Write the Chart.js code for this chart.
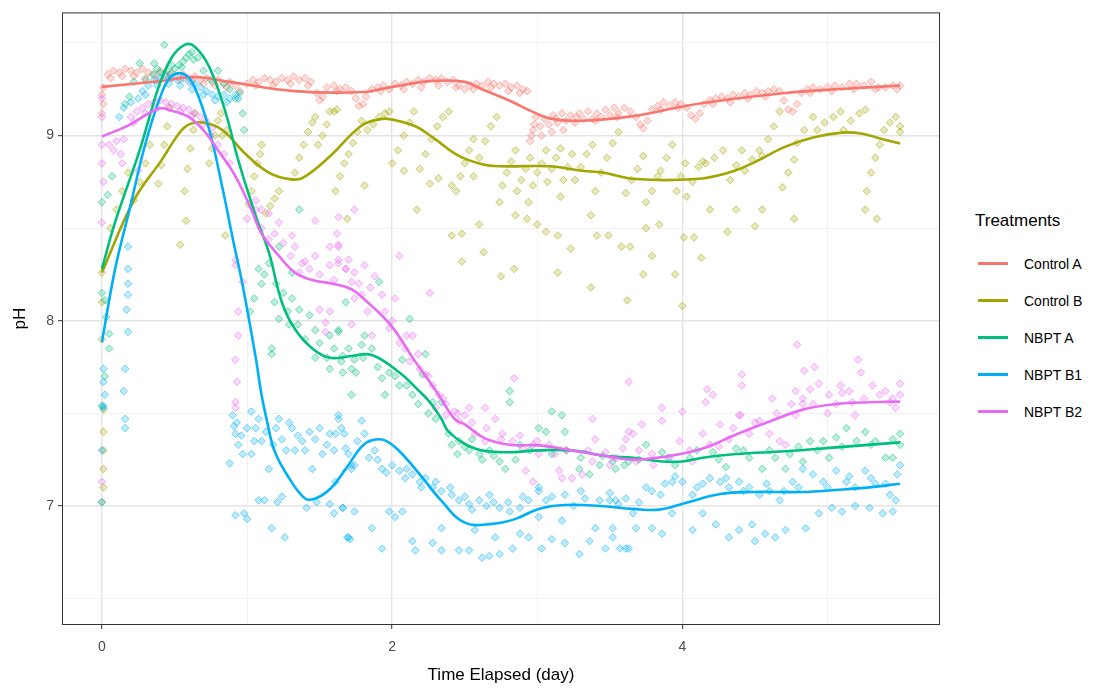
<!DOCTYPE html>
<html>
<head>
<meta charset="utf-8">
<title>pH by treatment</title>
<script src="https://cdn.jsdelivr.net/npm/chart.js@4.4.1/dist/chart.umd.min.js"></script>
<style>
  html, body { margin: 0; padding: 0; background: #fff; }
  #wrap { position: relative; width: 1112px; height: 690px; font-family: "Liberation Sans", Arial, sans-serif; }
  #chartBox { position: absolute; left: 0; top: 0; width: 950px; height: 690px; }
  #legend { position: absolute; left: 975px; top: 211px; }
  #legend .title { font-size: 17px; line-height: 20px; color: #000; margin-bottom: 14px; }
  #legend .item { display: flex; align-items: center; height: 37px; font-size: 14px; color: #000; }
  #legend .key { width: 30px; height: 3px; margin: 0 16px 0 3px; }
</style>
</head>
<body>
<div id="wrap">
  <div id="chartBox"><canvas id="chart"></canvas></div>
  <div id="legend"></div>
</div>
<script>
// axis ticks (minor ones get a grid line but no label)
const X_TICKS = [0, 1, 2, 3, 4, 5];
const X_LABELLED = [0, 2, 4];
const Y_TICKS = [6.5, 7, 7.5, 8, 8.5, 9, 9.5];
const Y_LABELLED = [7, 8, 9];

const TREATMENT_NAMES = ['Control A', 'Control B', 'NBPT A', 'NBPT B1', 'NBPT B2'];
const TREATMENT_COLORS = ['#F8766D', '#A3A500', '#00BF7D', '#00B0F6', '#E76BF3'];

// raw readings [day, pH]
const controlAPoints = [
  [0,9.12],[0.01,9.17],[0,9.22],[0.01,9.26],
  [0.04,9.33],[0.08,9.35],[0.12,9.34],[0.16,9.36],[0.2,9.35],[0.24,9.34],[0.28,9.36],[0.32,9.34],[0.36,9.33],[0.4,9.35],
  [0.44,9.33],[0.48,9.34],[0.52,9.32],[0.56,9.33],[0.6,9.31],[0.64,9.32],[0.68,9.3],[0.72,9.31],[0.76,9.29],[0.8,9.3],
  [0.84,9.28],[0.88,9.29],[0.92,9.27],[0.95,9.24],
  [0.06,9.31],[0.14,9.32],[0.22,9.32],[0.3,9.31],[0.38,9.3],[0.46,9.31],[0.54,9.3],[0.62,9.29],[0.7,9.28],[0.78,9.27],[0.86,9.26],
  [1.0,9.28],[1.04,9.3],[1.08,9.29],[1.12,9.31],[1.16,9.3],[1.2,9.29],[1.24,9.31],[1.28,9.3],[1.32,9.32],[1.36,9.3],
  [1.4,9.31],[1.44,9.29],[1.48,9.23],[1.5,9.19],[1.52,9.21],[1.55,9.26],[1.6,9.27],[1.64,9.25],[1.68,9.26],[1.72,9.24],
  [1.75,9.2],[1.77,9.16],[1.8,9.17],[1.82,9.21],[1.86,9.25],[1.9,9.26],[1.94,9.27],[1.98,9.25],[2.02,9.28],[2.06,9.27],
  [2.1,9.29],[2.14,9.28],[2.18,9.3],[2.22,9.29],[2.26,9.31],[2.3,9.3],[2.34,9.31],[2.38,9.29],[2.42,9.3],[2.46,9.27],
  [2.5,9.25],[2.54,9.27],[2.58,9.28],[2.62,9.27],[2.66,9.29],[2.7,9.28],[2.74,9.27],[2.78,9.28],[2.82,9.26],[2.86,9.27],
  [2.9,9.25],[2.93,9.24],
  [1.06,9.27],[1.18,9.27],[1.3,9.28],[1.42,9.27],[1.62,9.24],[1.92,9.24],[2.08,9.25],[2.2,9.26],[2.32,9.27],[2.44,9.26],
  [2.56,9.25],[2.68,9.26],[2.8,9.24],[2.88,9.23],
  [2.95,8.97],[2.96,9.0],[2.97,9.03],[2.98,9.06],[2.99,9.1],
  [3.02,9.05],[3.03,9.0],[3.05,9.09],[3.08,9.06],[3.1,9.02],[3.11,9.11],[3.14,9.07],[3.17,9.12],[3.18,9.03],[3.2,9.08],
  [3.23,9.11],[3.26,9.07],[3.29,9.12],[3.32,9.09],[3.35,9.13],[3.38,9.09],[3.41,9.12],[3.44,9.1],[3.47,9.14],[3.5,9.11],
  [3.53,9.15],[3.56,9.12],[3.6,9.15],[3.64,9.13],[3.68,9.1],[3.71,9.06],[3.73,9.04],[3.76,9.08],[3.79,9.14],[3.83,9.16],
  [3.87,9.18],[3.91,9.16],[3.95,9.18],[3.99,9.17],[4.03,9.15],[4.06,9.11],[4.09,9.09],[4.12,9.12],[4.15,9.17],[4.19,9.19],
  [4.23,9.2],[4.27,9.21],[4.31,9.2],[4.35,9.22],[4.39,9.21],[4.43,9.23],[4.47,9.22],[4.51,9.24],[4.55,9.23],[4.59,9.24],
  [4.63,9.25],[4.67,9.24],[4.7,9.19],[4.73,9.14],[4.76,9.13],[4.79,9.17],[4.82,9.23],[4.86,9.25],[4.9,9.26],[4.95,9.25],
  [5.0,9.26],[5.05,9.27],[5.1,9.26],[5.15,9.28],[5.2,9.28],[5.25,9.27],[5.3,9.29],[5.35,9.26],[5.4,9.26],[5.45,9.27],[5.5,9.27],
  [3.13,9.09],[3.27,9.1],[3.4,9.08],[3.55,9.1],[3.85,9.14],[3.97,9.15],[4.21,9.17],[4.33,9.18],[4.45,9.2],[4.57,9.21],
  [4.88,9.23],[5.03,9.24],[5.18,9.25],[5.33,9.25],[5.48,9.25]
];

const controlBPoints = [
  [0,8.26],[0,8.1],[0,7.9],[0.01,7.52],[0.01,7.4],[0.01,7.3],[0.01,7.2],[0.01,7.1],[0,7.02],
  [0.06,8.5],[0.1,8.6],[0.14,8.7],[0.18,8.8],[0.22,8.65],[0.26,8.75],[0.3,8.85],[0.33,8.95],
  [0.39,8.74],[0.41,8.84],[0.43,8.95],[0.45,9.05],[0.47,9.15],
  [0.57,8.7],[0.59,8.82],[0.61,8.93],[0.63,9.03],[0.64,9.12],
  [0.74,8.85],[0.76,8.93],[0.78,9.0],[0.8,9.08],[0.82,9.12],[0.83,9.0],[0.86,9.03],
  [0.54,8.41],[0.58,8.54],[0.85,8.46],
  [1.01,8.63],[1.03,8.7],[1.05,8.78],[1.07,8.85],[1.09,8.9],[1.1,8.95],
  [1.13,8.58],[1.16,8.62],[1.19,8.66],[1.22,8.7],
  [1.33,8.8],[1.36,8.88],[1.39,8.95],[1.42,9.02],[1.45,9.07],[1.47,9.1],
  [1.49,8.95],[1.52,9.0],[1.55,9.06],[1.57,9.13],[1.6,9.13],[1.62,9.14],
  [1.61,8.7],[1.64,8.78],[1.67,8.85],[1.7,8.9],[1.69,8.55],
  [1.73,8.96],[1.76,9.02],[1.79,9.08],[1.81,8.73],
  [1.83,9.03],[1.87,9.06],[1.91,9.1],[1.95,9.12],[1.98,9.13],
  [2.0,8.85],[2.04,8.92],[2.08,9.0],[2.12,9.07],[2.15,9.13],[2.08,8.81],[2.17,8.6],
  [2.19,8.82],[2.23,8.9],[2.27,8.98],[2.31,9.05],[2.35,9.1],[2.39,9.13],[2.26,8.74],[2.32,8.77],
  [2.44,8.7],[2.47,8.78],[2.5,8.85],[2.53,8.92],[2.56,8.98],[2.41,8.73],
  [2.56,8.78],[2.6,8.88],[2.64,8.97],[2.68,9.05],[2.72,9.1],[2.74,8.64],
  [2.76,8.73],[2.79,8.8],[2.82,8.86],[2.85,8.92],
  [2.86,8.7],[2.89,8.76],[2.92,8.82],[2.95,8.88],[2.94,8.64],
  [2.97,8.73],[3.0,8.8],[3.03,8.85],[3.06,8.92],
  [3.07,8.75],[3.1,8.82],[3.13,8.88],[3.16,8.93],[3.16,8.67],
  [3.18,8.76],[3.21,8.83],[3.24,8.9],
  [3.26,8.76],[3.3,8.83],[3.34,8.9],[3.38,8.95],
  [3.4,8.7],[3.44,8.8],[3.48,8.88],[3.52,8.96],[3.56,9.02],
  [3.61,8.69],[3.65,8.76],[3.69,8.82],[3.73,8.89],
  [3.75,8.64],[3.79,8.7],[3.83,8.78],
  [3.85,8.81],[3.89,8.88],[3.93,8.95],
  [3.96,8.7],[3.99,8.78],[4.02,8.85],
  [4.03,8.67],[4.07,8.75],[4.11,8.83],[4.14,8.86],
  [4.16,8.85],[4.22,8.88],[4.28,8.92],
  [4.33,8.76],[4.37,8.84],[4.41,8.92],
  [4.43,8.81],[4.48,8.87],[4.53,8.92],
  [4.55,8.89],[4.59,8.98],[4.63,9.05],[4.67,9.13],
  [4.69,8.72],[4.73,8.8],[4.77,8.87],
  [4.79,8.96],[4.84,9.03],[4.9,9.1],
  [4.93,9.03],[4.98,9.07],[5.04,9.1],[5.09,9.13],
  [5.11,9.03],[5.16,9.08],[5.22,9.12],[5.26,9.14],
  [5.27,8.7],[5.3,8.8],[5.33,8.88],[5.36,8.95],
  [5.39,9.03],[5.43,9.07],[5.47,9.1],[5.5,9.05],[5.5,9.02],
  // low scatter
  [2.41,8.46],[2.48,8.47],[2.48,8.32],[2.6,8.52],[2.63,8.37],[2.75,8.24],[2.84,8.28],[2.85,8.57],[2.93,8.55],
  [3.0,8.52],[3.06,8.48],[3.14,8.46],[3.14,8.26],[3.23,8.39],[3.37,8.18],[3.37,8.57],[3.41,8.46],[3.49,8.46],
  [3.58,8.4],[3.62,8.11],[3.64,8.4],[3.73,8.25],[3.75,8.5],[3.79,8.35],[3.84,8.52],[3.95,8.25],[4.0,8.08],
  [4.01,8.45],[4.08,8.45],[4.13,8.34],[4.19,8.6],[4.31,8.48],[4.37,8.6],[4.5,8.51],[4.55,8.6],[4.77,8.55],
  [5.26,8.6],[5.34,8.55]
];

const nbptAPoints = [
  [0,8.64],[0.04,8.68],[0.07,8.78],[0,8.15],[0.02,8.11],[0.03,8.02],[0.05,7.93],[0.05,7.85],[0,7.54],[0.02,7.7],
  [0.16,9.17],[0.19,9.21],[0.22,9.29],[0.26,9.39],[0.36,9.39],[0.43,9.49],[0.48,9.38],
  [0.35,9.33],[0.4,9.34],[0.45,9.35],[0.5,9.36],[0.53,9.38],[0.56,9.4],[0.58,9.42],[0.6,9.44],[0.62,9.45],
  [0.3,9.3],[0.38,9.36],[0.47,9.33],[0.55,9.37],[0.63,9.41],[0.66,9.42],[0.7,9.35],[0.75,9.3],
  [0.8,9.35],[0.84,9.28],[0.88,9.25],[0.92,9.2],[0.95,9.23],[0.97,9.12],[0.98,9.03],
  [1.08,8.28],[1.15,8.31],[1.1,8.2],[1.05,8.12],[1.02,8.05],[1.19,8.1],[1.31,8.12],[1.36,8.06],[1.22,8.01],
  [1.17,7.85],[1.17,7.82],[1.29,7.98],[1.43,8.03],[1.47,7.95],[1.57,7.92],[1.47,7.8],[1.57,7.74],[1.66,7.72],
  [1.74,7.79],[1.7,7.85],[1.72,7.6],[1.63,7.95],[1.68,8.1],[1.36,8.6],[1.22,8.4],[1.31,8.26],
  [1.12,8.25],[1.2,8.2],[1.25,8.15],[1.28,8.05],[1.35,7.98],[1.4,7.9],[1.5,7.88],[1.55,7.8],[1.6,7.85],[1.65,7.78],
  [1.75,7.72],[1.8,7.8],[1.9,7.75],[1.98,7.72],[2.02,7.7],[2.1,7.65],[2.18,7.55],[2.25,7.5],
  [1.63,7.94],[1.66,7.81],[1.72,7.74],[1.79,7.87],[1.81,7.92],[1.86,7.85],[1.93,7.69],[1.95,7.6],[2.05,7.65],
  [2.07,7.79],[2.14,7.6],[2.21,7.71],[2.28,7.56],[2.34,7.56],[1.91,8.21],[2.12,8.01],[2.23,7.82],[2.81,7.62],[2.81,7.56],
  [2.3,7.47],[2.39,7.39],[2.46,7.35],[2.53,7.3],[2.6,7.28],[2.67,7.3],[2.74,7.24],[2.78,7.2],[2.88,7.33],
  [3.01,7.42],[3.06,7.4],[3.19,7.4],[3.17,7.49],[3.1,7.51],[3.29,7.2],[3.36,7.17],[3.43,7.22],[3.54,7.2],
  [3.63,7.24],[2.41,7.33],[2.55,7.36],
  [2.45,7.28],[2.5,7.32],[2.62,7.25],[2.7,7.27],[2.85,7.25],[2.95,7.3],[3.1,7.28],[3.2,7.3],[3.3,7.26],[3.45,7.27],
  [3.6,7.22],[3.7,7.25],[3.9,7.26],[4.1,7.3],[4.25,7.25],[4.42,7.3],[4.6,7.3],[4.8,7.32],[4.93,7.3],[5.1,7.32],
  [5.3,7.33],[5.45,7.36],
  [3.52,7.24],[3.75,7.33],[3.86,7.29],[3.95,7.22],[4.05,7.26],[4.21,7.29],[4.3,7.21],[4.37,7.31],[4.46,7.26],
  [4.55,7.2],[4.64,7.26],[4.74,7.28],[4.83,7.24],[4.88,7.35],[4.97,7.35],[5.06,7.37],[5.13,7.42],[5.2,7.35],
  [5.26,7.4],[5.33,7.35],[5.4,7.26],[5.45,7.26],[5.5,7.39],[5.5,7.33],[5.01,7.26],[4.71,7.2]
];

const nbptB1Points = [
  [0.01,7.74],[0.01,7.67],[0.02,7.6],[0.01,7.54],[0.16,7.74],[0.18,7.94],[0.17,8.06],[0.18,8.14],[0.18,8.2],
  [0.18,8.28],[0.18,8.4],[0.15,7.62],[0,7.3],[0,7.02],[0.01,7.53],[0.16,7.47],[0.16,7.42],
  [0.12,9.1],[0.15,9.15],[0.2,9.18],
  [0.25,9.2],[0.28,9.24],[0.32,9.27],[0.36,9.3],[0.4,9.31],[0.44,9.32],[0.48,9.31],[0.52,9.3],[0.56,9.31],
  [0.6,9.29],[0.64,9.28],[0.68,9.26],[0.72,9.24],[0.76,9.22],[0.8,9.21],[0.84,9.22],[0.88,9.2],[0.92,9.22],
  [0.3,9.22],[0.38,9.27],[0.46,9.28],[0.54,9.27],[0.62,9.25],[0.7,9.22],[0.78,9.19],[0.86,9.18],[0.94,9.2],
  [0.9,7.49],[0.91,7.43],[0.92,7.39],[0.94,7.33],[0.97,7.28],[0.88,7.23],[1.03,7.51],[1.06,7.42],[1.1,7.35],
  [1.03,7.28],[1.15,7.2],[1.22,7.47],[1.24,7.36],[1.31,7.42],[1.33,7.3],[1.38,7.35],[1.43,7.4],[1.45,7.2],
  [1.52,7.28],[1.57,7.39],[1.63,7.47],[1.68,7.31],[1.74,7.22],[1.61,7.13],[1.72,7.2],
  [0.93,7.45],[0.96,7.38],[1.0,7.42],[1.05,7.35],[1.08,7.47],[1.13,7.4],[1.18,7.33],[1.2,7.42],[1.27,7.3],[1.29,7.45],
  [1.35,7.38],[1.4,7.3],[1.47,7.36],[1.5,7.42],[1.55,7.33],[1.6,7.3],[1.65,7.42],[1.7,7.28],[1.76,7.35],
  [1.08,7.03],[1.12,7.03],[1.21,7.02],[1.24,7.05],[0.92,6.95],[0.98,6.96],[1.0,6.93],[1.17,6.88],[1.26,6.83],
  [1.41,6.99],[1.48,7.02],[1.57,7.01],[1.6,6.96],[1.66,6.99],[1.74,6.97],[1.69,6.83],[1.71,6.82],
  [1.63,7.49],[1.61,7.39],[1.67,7.39],[1.79,7.46],[1.81,7.39],[1.72,7.22],[1.84,7.26],[1.88,7.3],[1.93,7.2],
  [2.0,7.22],[2.05,7.19],[2.09,7.15],[2.14,7.17],[2.19,7.13],[2.23,7.15],[2.28,7.1],[2.34,7.08],[2.41,7.06],
  [2.46,7.03],[2.53,7.01],[2.6,7.03],[2.67,7.06],[2.74,6.99],[2.81,6.97],[2.88,6.99],[2.94,7.03],[3.01,7.08],
  [3.06,7.03],[3.19,7.06],[3.33,7.04],[3.43,7.03],[3.54,7.03],[3.61,7.04],[3.01,7.1],
  [1.9,7.25],[1.96,7.18],[2.1,7.2],[2.2,7.1],[2.3,7.13],[2.4,7.1],[2.5,7.05],[2.55,6.98],[2.65,7.0],[2.7,7.02],
  [2.8,7.02],[2.9,7.05],[3.1,7.05],[3.25,7.0],[3.3,7.08],[3.5,7.07],[3.7,7.02],[3.85,7.06],[3.95,7.16],[4.1,7.1],
  [4.3,7.15],[4.42,7.08],[4.58,7.12],[4.7,7.08],[4.8,7.1],[5.0,7.1],[5.15,7.16],[5.3,7.15],[5.4,7.12],
  [1.66,6.99],[1.7,6.83],[1.86,6.88],[1.93,6.77],[1.98,6.97],[2.02,6.94],[2.07,6.97],[2.14,6.81],[2.16,6.76],
  [2.28,6.8],[2.34,6.76],[2.46,6.76],[2.53,6.76],[2.62,6.72],[2.67,6.73],[2.74,6.74],[2.34,6.88],[2.57,6.87],
  [2.71,6.83],[2.83,6.77],[2.88,6.85],[2.94,6.83],[3.03,6.77],[3.1,6.82],[3.19,6.8],[3.29,6.74],[3.36,6.81],
  [3.47,6.77],[3.57,6.77],[3.63,6.77],[3.4,6.88],[3.01,6.94],[3.17,6.92],[3.52,6.88],
  [3.5,7.03],[3.56,7.01],[3.66,6.96],[3.75,7.1],[3.79,7.08],[3.88,7.12],[3.93,7.13],[4.0,7.13],[4.07,7.06],
  [4.14,7.12],[4.19,7.15],[4.26,7.13],[4.32,7.1],[4.39,7.13],[4.46,7.1],[4.53,7.06],[4.6,7.08],[4.67,7.03],
  [4.76,7.13],[4.83,7.2],[4.9,7.17],[4.97,7.13],[5.06,7.19],[5.13,7.13],[5.19,7.1],[5.26,7.19],[5.33,7.12],
  [5.43,7.06],[5.48,7.17],[5.5,7.22],[5.47,7.03],
  [3.52,6.83],[3.61,6.77],[3.68,6.88],[3.79,6.88],[3.86,6.85],[3.93,6.96],[4.07,6.87],[4.14,6.96],[4.23,6.9],
  [4.32,6.83],[4.39,6.87],[4.48,6.9],[4.5,6.81],[4.57,6.85],[4.64,6.83],[4.71,6.87],[4.85,6.88],[4.94,6.96],
  [5.03,6.99],[5.1,6.97],[5.19,7.0],[5.29,6.99],[5.38,6.96],[5.45,6.97]
];

const nbptB2Points = [
  [0,9.2],[0,9.1],[0,8.95],[0,8.85],[0.01,8.75],[0,8.53],[0,7.13],
  [0.05,8.95],[0.08,8.92],[0.1,8.97],[0.13,8.9],[0.15,8.98],[0.25,8.81],[0.14,8.85],
  [0.2,9.1],[0.24,9.13],[0.28,9.15],[0.32,9.17],[0.36,9.18],[0.4,9.19],[0.44,9.18],[0.48,9.17],[0.52,9.16],
  [0.56,9.15],[0.6,9.14],[0.64,9.12],[0.68,9.1],[0.72,9.08],[0.76,9.04],
  [0.22,9.07],[0.3,9.12],[0.38,9.15],[0.46,9.15],[0.54,9.13],[0.62,9.11],[0.7,9.06],
  [0.75,9.0],[0.8,8.95],[0.84,8.9],[0.88,8.85],[1.06,8.65],[1.1,8.6],[1.15,8.58],
  [1.06,8.6],[1.22,8.53],[1.19,8.47],[1.31,8.46],[1.33,8.4],[1.38,8.31],[1.43,8.28],[1.47,8.35],[1.57,8.3],
  [1.63,8.4],[1.63,8.33],[1.68,8.28],[1.72,8.21],[1.74,8.12],[1.57,8.05],[1.54,7.99],[1.54,7.94],[1.5,8.06],
  [0.92,8.33],[0.92,8.3],[0.97,8.21],[0.94,8.05],[0.94,7.92],[0.92,7.79],[0.93,7.67],[0.92,7.56],[0.92,7.53],
  [1.15,8.44],[1.36,8.26],[1.57,8.4],[1.47,8.54],[1.63,8.56],[1.74,8.6],
  [1.0,8.55],[1.1,8.5],[1.25,8.42],[1.3,8.35],[1.4,8.32],[1.5,8.25],[1.6,8.22],[1.77,8.2],[1.85,8.18],[1.95,8.05],
  [2.0,8.0],[2.1,7.92],[2.18,7.82],[2.25,7.7],[2.35,7.58],[2.45,7.5],[2.55,7.45],[2.65,7.42],[2.75,7.36],[2.88,7.38],
  [1.62,8.47],[1.63,8.41],[1.63,8.31],[1.68,8.28],[1.7,8.33],[1.74,8.26],[1.79,8.14],[1.81,8.3],[1.88,8.24],
  [1.93,8.14],[2.02,8.12],[1.83,8.05],[1.98,7.96],[2.05,7.88],[2.09,7.85],[2.14,7.92],[2.12,7.78],[2.19,7.74],
  [2.23,7.71],[2.28,7.65],[2.32,7.6],[2.37,7.55],[2.43,7.51],[2.5,7.49],[1.72,7.98],[1.86,7.92],[2.05,8.35],
  [2.26,8.15],[2.84,7.69],[3.63,7.67],
  [2.3,7.53],[2.37,7.49],[2.46,7.46],[2.53,7.53],[2.57,7.39],[2.64,7.35],[2.71,7.47],[2.76,7.39],[2.83,7.35],
  [2.9,7.31],[2.97,7.33],[3.01,7.28],[3.08,7.33],[3.15,7.19],[3.24,7.15],[3.31,7.17],[3.38,7.24],[3.4,7.36],
  [3.47,7.29],[3.54,7.26],[3.61,7.36],[3.63,7.4],[2.64,7.53],[2.92,7.19],[2.97,7.13],[3.17,7.15],[3.38,7.47],
  [3.0,7.35],[3.12,7.28],[3.2,7.3],[3.35,7.3],[3.5,7.22],[3.7,7.3],[3.8,7.22],[4.05,7.3],[4.25,7.32],[4.35,7.42],
  [4.5,7.45],[4.65,7.5],[4.75,7.55],[4.9,7.55],[5.0,7.5],[5.15,7.62],[5.25,7.58],[5.4,7.62],[5.45,7.58],
  [3.52,7.26],[3.59,7.31],[3.66,7.39],[3.68,7.24],[3.79,7.28],[3.91,7.26],[3.98,7.35],[4.07,7.24],[4.14,7.39],
  [4.19,7.33],[4.26,7.44],[4.32,7.36],[4.39,7.49],[4.46,7.39],[4.53,7.46],[4.6,7.39],[4.67,7.35],[4.71,7.33],
  [4.0,7.51],[3.86,7.46],[3.72,7.44],[4.78,7.49],[4.83,7.55],
  [4.79,7.87],[4.84,7.73],[4.91,7.75],[4.78,7.62],[4.83,7.58],[4.88,7.63],[4.94,7.66],[5.01,7.6],[5.09,7.65],
  [5.1,7.61],[5.06,7.55],[5.19,7.49],[5.21,7.79],[5.23,7.72],[5.31,7.65],[5.36,7.6],[5.43,7.56],[5.47,7.53],
  [5.5,7.66],[5.5,7.6],[5.17,7.56],[4.41,7.71],[4.41,7.65],[4.4,7.49],[4.16,7.56],[4.17,7.63],[4.21,7.6],
  [4.62,7.58],[3.86,7.53]
];

// fitted smooth curves [day, pH]
const controlASmooth = [
  [0,9.263],[0.41,9.295],[0.64,9.316],[0.88,9.29],[1.33,9.24],[1.8,9.235],[2.0,9.263],[2.28,9.295],[2.5,9.29],
  [2.62,9.25],[2.81,9.188],[2.97,9.128],[3.1,9.09],[3.31,9.08],[3.66,9.105],[4.02,9.16],[4.37,9.2],[4.71,9.23],
  [5.06,9.25],[5.5,9.27]
];
const controlBSmooth = [
  [0,8.26],[0.22,8.65],[0.41,8.866],[0.53,9.01],[0.6,9.06],[0.7,9.07],[0.83,9.03],[0.99,8.9],[1.15,8.8],
  [1.29,8.765],[1.38,8.77],[1.57,8.887],[1.79,9.054],[1.93,9.09],[2.0,9.086],[2.16,9.05],[2.28,8.99],[2.46,8.89],
  [2.62,8.845],[2.74,8.834],[3.08,8.834],[3.31,8.81],[3.45,8.8],[3.68,8.765],[4.09,8.765],[4.32,8.8],[4.48,8.85],
  [4.71,8.94],[4.9,8.99],[5.1,9.016],[5.24,9.01],[5.38,8.98],[5.5,8.957]
];
const nbptASmooth = [
  [0,8.28],[0.09,8.53],[0.26,8.92],[0.39,9.26],[0.48,9.42],[0.57,9.49],[0.64,9.48],[0.74,9.37],[0.85,9.13],
  [0.94,8.866],[1.06,8.566],[1.15,8.37],[1.24,8.1],[1.33,7.955],[1.45,7.85],[1.57,7.8],[1.72,7.81],[1.86,7.815],
  [2.05,7.72],[2.19,7.617],[2.26,7.56],[2.34,7.47],[2.39,7.4],[2.57,7.31],[2.78,7.29],[3.01,7.3],[3.24,7.3],
  [3.47,7.27],[3.66,7.26],[3.86,7.24],[4.0,7.24],[4.14,7.26],[4.37,7.28],[4.71,7.295],[5.06,7.316],[5.5,7.343]
];
const nbptB1Smooth = [
  [0,7.885],[0.09,8.276],[0.19,8.6],[0.3,8.957],[0.41,9.225],[0.48,9.32],[0.57,9.33],[0.64,9.26],[0.74,9.03],
  [0.83,8.72],[0.9,8.45],[0.97,8.19],[1.06,7.8],[1.1,7.6],[1.14,7.45],[1.19,7.295],[1.29,7.15],[1.4,7.04],
  [1.47,7.04],[1.57,7.09],[1.68,7.2],[1.79,7.32],[1.86,7.354],[1.95,7.354],[2.05,7.295],[2.19,7.17],[2.34,7.027],
  [2.5,6.91],[2.69,6.903],[2.85,6.93],[3.01,6.984],[3.19,7.005],[3.43,7.0],[3.66,6.984],[3.84,6.98],[4.02,7.016],
  [4.26,7.064],[4.48,7.075],[4.83,7.075],[5.06,7.086],[5.29,7.1],[5.5,7.12]
];
const nbptB2Smooth = [
  [0,8.995],[0.18,9.054],[0.39,9.145],[0.48,9.134],[0.6,9.1],[0.71,9.02],[0.8,8.92],[0.92,8.78],[1.03,8.6],
  [1.1,8.47],[1.22,8.35],[1.33,8.26],[1.45,8.22],[1.59,8.2],[1.72,8.17],[1.81,8.115],[1.99,7.976],[2.15,7.79],
  [2.32,7.6],[2.43,7.47],[2.5,7.44],[2.64,7.365],[2.81,7.33],[3.01,7.327],[3.24,7.3],[3.47,7.27],[3.66,7.25],
  [3.91,7.27],[4.14,7.31],[4.37,7.386],[4.6,7.456],[4.83,7.52],[5.06,7.55],[5.29,7.56],[5.5,7.563]
];

const ALL_POINTS = [controlAPoints, controlBPoints, nbptAPoints, nbptB1Points, nbptB2Points];
const ALL_SMOOTH = [controlASmooth, controlBSmooth, nbptASmooth, nbptB1Smooth, nbptB2Smooth];

function rgba(hex, a) {
  const n = parseInt(hex.slice(1), 16);
  return `rgba(${(n >> 16) & 255},${(n >> 8) & 255},${n & 255},${a})`;
}

function toXY(pairs) {
  return pairs.map(p => ({ x: p[0], y: p[1] }));
}

// Function to build the point and smooth-line datasets
function buildDatasets() {
  const datasets = [];
  TREATMENT_NAMES.forEach((name, i) => {
    datasets.push({
      label: name + ' points',
      data: toXY(ALL_POINTS[i]),
      pointStyle: 'rectRot',
      pointRadius: 3.8,
      borderWidth: 1,
      backgroundColor: rgba(TREATMENT_COLORS[i], 0.26),
      borderColor: rgba(TREATMENT_COLORS[i], 0.5),
      order: 20 - i
    });
  });
  TREATMENT_NAMES.forEach((name, i) => {
    datasets.push({
      label: name,
      data: toXY(ALL_SMOOTH[i]),
      showLine: true,
      pointRadius: 0,
      borderColor: TREATMENT_COLORS[i],
      backgroundColor: TREATMENT_COLORS[i],
      borderWidth: 2.6,
      tension: 0.4,
      order: 10 - i
    });
  });
  return datasets;
}

// frame round the plotting panel
const panelBorder = {
  id: 'panelBorder',
  afterDraw(chart) {
    const { ctx, chartArea: a } = chart;
    ctx.save();
    ctx.strokeStyle = '#333333';
    ctx.lineWidth = 1;
    ctx.strokeRect(a.left + 0.5, a.top + 0.5, a.right - a.left - 1, a.bottom - a.top - 1);
    ctx.restore();
  }
};

function gridColor(labelled) {
  return (c) => labelled.includes(c.tick && c.tick.value) ? '#E4E4E4' : '#F0F0F0';
}
function gridWidth(labelled) {
  return (c) => labelled.includes(c.tick && c.tick.value) ? 1.4 : 0.9;
}
function tickWidth(labelled) {
  return (c) => labelled.includes(c.tick && c.tick.value) ? 1 : 0;
}

function createChart() {
  const ctx = document.getElementById('chart');
  return new Chart(ctx, {
    type: 'scatter',
    data: { datasets: buildDatasets() },
    plugins: [panelBorder],
    options: {
      responsive: true,
      maintainAspectRatio: false,
      animation: false,
      layout: { padding: { top: 8, right: 10, left: 0, bottom: 0 } },
      plugins: {
        legend: { display: false },
        tooltip: { enabled: false }
      },
      scales: {
        x: {
          type: 'linear',
          min: -0.275,
          max: 5.775,
          afterBuildTicks: (scale) => { scale.ticks = X_TICKS.map(v => ({ value: v })); },
          afterFit: (scale) => { scale.height = 65; },
          border: { display: false },
          grid: {
            color: gridColor(X_LABELLED),
            lineWidth: gridWidth(X_LABELLED),
            tickColor: '#333333',
            tickWidth: tickWidth(X_LABELLED),
            tickLength: 4,
            drawTicks: true
          },
          ticks: {
            autoSkip: false,
            maxRotation: 0,
            padding: 10,
            color: '#4D4D4D',
            font: { family: 'Liberation Sans', size: 14 },
            callback: (v) => X_LABELLED.includes(v) ? String(v) : ''
          },
          title: {
            display: true,
            text: 'Time Elapsed (day)',
            color: '#000',
            font: { family: 'Liberation Sans', size: 17 },
            padding: { top: 0, bottom: 4 }
          }
        },
        y: {
          type: 'linear',
          min: 6.357,
          max: 9.665,
          afterBuildTicks: (scale) => { scale.ticks = Y_TICKS.map(v => ({ value: v })); },
          afterFit: (scale) => { scale.width = 62; },
          border: { display: false },
          grid: {
            color: gridColor(Y_LABELLED),
            lineWidth: gridWidth(Y_LABELLED),
            tickColor: '#333333',
            tickWidth: tickWidth(Y_LABELLED),
            tickLength: 4
          },
          ticks: {
            autoSkip: false,
            padding: 4,
            color: '#4D4D4D',
            font: { family: 'Liberation Sans', size: 14 },
            callback: (v) => Y_LABELLED.includes(v) ? String(v) : ''
          },
          title: {
            display: true,
            text: 'pH',
            color: '#000',
            font: { family: 'Liberation Sans', size: 17 },
            padding: { top: 10, bottom: 0 }
          }
        }
      }
    }
  });
}

// legend for the smooth lines
function buildLegend() {
  const box = document.getElementById('legend');
  let html = '<div class="title">Treatments</div>';
  TREATMENT_NAMES.forEach((name, i) => {
    html += `<div class="item"><span class="key" style="background:${TREATMENT_COLORS[i]}"></span>${name}</div>`;
  });
  box.innerHTML = html;
}

createChart();
buildLegend();
</script>
</body>
</html>
